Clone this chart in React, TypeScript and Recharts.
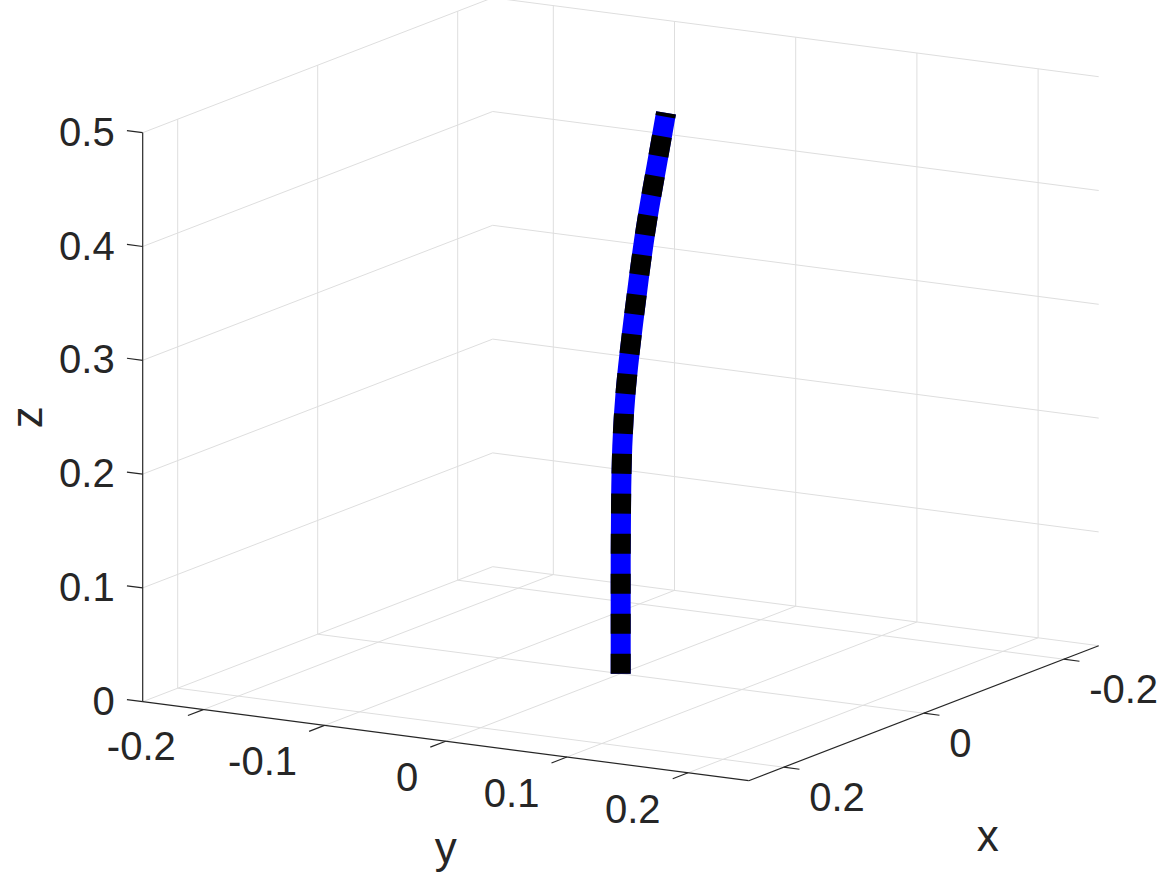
import React from "react";
import { ComposedChart, Line, Scatter, XAxis, YAxis } from "recharts";

// axis limits and ticks
const xLim = [-0.25, 0.25];
const yLim = [-0.25, 0.25];
const zLim = [0, 0.5];

const xTicks = [-0.2, 0, 0.2];
const yTicks = [-0.2, -0.1, 0, 0.1, 0.2];
const zTicks = [0, 0.1, 0.2, 0.3, 0.4, 0.5];

const xTickLabels = ["-0.2", "0", "0.2"];
const yTickLabels = ["-0.2", "-0.1", "0", "0.1", "0.2"];
const zTickLabels = ["0", "0.1", "0.2", "0.3", "0.4", "0.5"];

// rod centreline
const rodX = [0, 0, 0, 0, 0, 0, 0, 0, 0, 0, 0];
const rodY = [0, 0, 0, 0.0003, 0.0013, 0.0042, 0.0092, 0.015, 0.0216, 0.0296, 0.0374];
const rodZ = [0, 0.05, 0.1, 0.15, 0.2, 0.25, 0.3, 0.35, 0.4, 0.45, 0.498];

const W = 1167;
const H = 875;

// camera: where the box corner (xmax, ymin, zmin) lands and how each axis span is drawn
const CORNER = [142.7, 701.7];
const X_DIR = [-350, 135];
const Y_DIR = [606, 79];
const Z_DIR = [0, -569];

const GRID = "#dedede";
const INK = "#262626";
const FONT = "'Liberation Sans', Arial, Helvetica, sans-serif";

function proj(x: number, y: number, z: number) {
  const fx = (x - xLim[1]) / (xLim[1] - xLim[0]);
  const fy = (y - yLim[0]) / (yLim[1] - yLim[0]);
  const fz = (z - zLim[0]) / (zLim[1] - zLim[0]);
  return {
    h: CORNER[0] + fx * X_DIR[0] + fy * Y_DIR[0] + fz * Z_DIR[0],
    v: CORNER[1] + fx * X_DIR[1] + fy * Y_DIR[1] + fz * Z_DIR[1],
  };
}

type P3 = [number, number, number];
const seg = (a: P3, b: P3) => [proj(...a), proj(...b)];

const [x0, x1] = xLim;
const [y0, y1] = yLim;
const [z0, z1] = zLim;

const gridSegs = [
  // floor
  ...yTicks.map((y) => seg([x0, y, z0], [x1, y, z0])),
  ...xTicks.map((x) => seg([x, y0, z0], [x, y1, z0])),
  // back wall (x = xmin)
  ...zTicks.map((z) => seg([x0, y0, z], [x0, y1, z])),
  ...yTicks.map((y) => seg([x0, y, z0], [x0, y, z1])),
  // side wall (y = ymin)
  ...zTicks.map((z) => seg([x0, y0, z], [x1, y0, z])),
  ...xTicks.map((x) => seg([x, y0, z0], [x, y0, z1])),
];

const axisSegs = [
  seg([x1, y0, z0], [x1, y0, z1]),
  seg([x1, y0, z0], [x1, y1, z0]),
  seg([x1, y1, z0], [x0, y1, z0]),
  ...zTicks.map((z) => seg([x1, y0, z], [x1, y0 - 0.013, z])),
  ...yTicks.map((y) => seg([x1, y, z0], [x1 + 0.022, y, z0])),
  ...xTicks.map((x) => seg([x, y1, z0], [x, y1 + 0.013, z0])),
];

const rod = rodZ.map((z, i) => proj(rodX[i], rodY[i], z));

const labels = [
  ...zTicks.map((z, i) => ({ ...proj(x1, y0, z), text: zTickLabels[i], anchor: "end", dx: -28, dy: 13, size: 40, rot: 0 })),
  ...yTicks.map((y, i) => ({ ...proj(x1, y, z0), text: yTickLabels[i], anchor: "end", dx: -27.5, dy: 50, size: 40, rot: 0 })),
  ...xTicks.map((x, i) => ({ ...proj(x, y1, z0), text: xTickLabels[i], anchor: "start", dx: 25.5, dy: 44, size: 40, rot: 0 })),
  { ...proj(0, y1, z0), text: "x", anchor: "middle", dx: 64, dy: 138, size: 44, rot: 0 },
  { ...proj(x1, 0, z0), text: "y", anchor: "middle", dx: 0, dy: 121.5, size: 44, rot: 0 },
  { ...proj(x1, y0, 0.25), text: "z", anchor: "middle", dx: -100.7, dy: 0, size: 44, rot: -90 },
];

const LabelText = (props: any) => {
  const { cx, cy, payload } = props;
  const x = cx + payload.dx;
  const y = cy + payload.dy;
  return (
    <text
      x={x}
      y={y}
      textAnchor={payload.anchor}
      fontSize={payload.size}
      fontFamily={FONT}
      fill={INK}
      transform={payload.rot ? `rotate(${payload.rot} ${x} ${y})` : undefined}
    >
      {payload.text}
    </text>
  );
};

export default function App() {
  return (
    <div style={{ position: "absolute", left: 0, top: 0, background: "#fff" }}>
      <ComposedChart width={W} height={H} margin={{ top: 0, right: 0, bottom: 0, left: 0 }}>
        <XAxis type="number" dataKey="h" domain={[0, W]} hide allowDataOverflow />
        <YAxis type="number" domain={[0, H]} reversed hide allowDataOverflow />
        {gridSegs.map((d, i) => (
          <Line
            key={`g${i}`}
            data={d}
            dataKey="v"
            stroke={GRID}
            strokeWidth={1}
            dot={false}
            activeDot={false}
            isAnimationActive={false}
          />
        ))}
        {axisSegs.map((d, i) => (
          <Line
            key={`a${i}`}
            data={d}
            dataKey="v"
            stroke={INK}
            strokeWidth={1.2}
            dot={false}
            activeDot={false}
            isAnimationActive={false}
          />
        ))}
        <Line
          data={rod}
          dataKey="v"
          type="natural"
          stroke="#0000ff"
          strokeWidth={20}
          dot={false}
          activeDot={false}
          isAnimationActive={false}
        />
        <Line
          data={rod}
          dataKey="v"
          type="natural"
          stroke="#000000"
          strokeWidth={20}
          strokeDasharray="20 20"
          dot={false}
          activeDot={false}
          isAnimationActive={false}
        />
        <Scatter data={labels} dataKey="v" shape={LabelText} isAnimationActive={false} />
      </ComposedChart>
    </div>
  );
}
